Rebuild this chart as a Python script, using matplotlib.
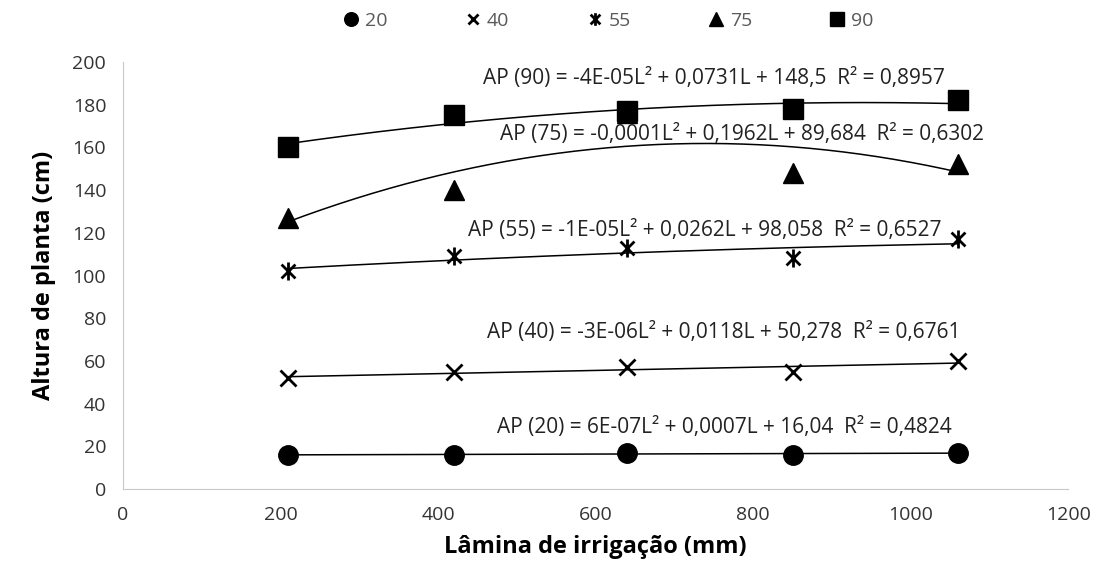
import numpy as np
import matplotlib.pyplot as plt
from matplotlib.path import Path

plt.rcParams['font.family'] = ['Open Sans', 'DejaVu Sans']

# lâminas de irrigação (mm) e altura de planta (cm) por tratamento
laminas = [210, 420, 640, 850, 1060]
ap20 = [16, 16, 17, 16, 17]
ap40 = [52, 55, 57, 55, 60]
ap55 = [102, 109, 113, 108, 117]
ap75 = [127, 140, 176, 148, 152]
ap90 = [160, 175, 177, 178, 182]

nomes = ['20', '40', '55', '75', '90']
equacoes = [
    'AP (20) = 6E-07L² + 0,0007L + 16,04  R² = 0,4824',
    'AP (40) = -3E-06L² + 0,0118L + 50,278  R² = 0,6761',
    'AP (55) = -1E-05L² + 0,0262L + 98,058  R² = 0,6527',
    'AP (75) = -0,0001L² + 0,1962L + 89,684  R² = 0,6302',
    'AP (90) = -4E-05L² + 0,0731L + 148,5  R² = 0,8957',
]
pos_eq = [(764, 29), (763, 73.5), (739, 121), (786, 166), (750, 192.5)]

# marcador "estrela" do Excel: um x com barra vertical
estrela = Path([(-1, -1), (1, 1), (-1, 1), (1, -1), (0, -1.3), (0, 1.3)],
               [Path.MOVETO, Path.LINETO, Path.MOVETO, Path.LINETO, Path.MOVETO, Path.LINETO])

estilos = [
    dict(marker='o', markersize=14, color='black'),
    dict(marker='x', markersize=11, markeredgewidth=2, color='black'),
    dict(marker=estrela, markersize=13, markeredgewidth=2, markerfacecolor='none', color='black'),
    dict(marker='^', markersize=15, color='black'),
    dict(marker='s', markersize=15, color='black'),
]

fig = plt.figure(figsize=(11.07, 5.69), dpi=100)
ax = fig.add_axes([0.111, 0.1406, 0.854, 0.7504])

x = np.array(laminas)
xs = np.linspace(x.min(), x.max(), 200)
handles = []
for i, y in enumerate([ap20, ap40, ap55, ap75, ap90]):
    coef = np.polyfit(x, y, 2)
    ax.plot(xs, np.polyval(coef, xs), color='black', lw=1.1, zorder=2 + i)
    h, = ax.plot(x, y, linestyle='none', zorder=3 + i, label=nomes[i], **estilos[i])
    handles.append(h)
    ax.text(pos_eq[i][0], pos_eq[i][1], equacoes[i], ha='center', va='center',
            fontsize=15, color='#222222', zorder=10)

ax.set_xlim(0, 1200)
ax.set_ylim(0, 200)
ax.set_xticks(range(0, 1201, 200))
ax.set_yticks(range(0, 201, 20))
ax.tick_params(length=0, labelsize=14, colors='#333333', pad=12)
for s in ['top', 'right']:
    ax.spines[s].set_visible(False)
for s in ['left', 'bottom']:
    ax.spines[s].set_color('#c8c8c8')

ax.set_xlabel('Lâmina de irrigação (mm)', fontsize=17, fontweight='bold', labelpad=8)
ax.set_ylabel('Altura de planta (cm)', fontsize=17, fontweight='bold', labelpad=12)

leg = fig.legend(handles=handles, loc='upper center', bbox_to_anchor=(0.548, 1.01),
                 ncol=5, frameon=False, fontsize=14, columnspacing=3.8,
                 handletextpad=0.1, markerscale=0.7, handlelength=1.2)
for t in leg.get_texts():
    t.set_color('#595959')

fig.savefig('out.png', dpi=100)
